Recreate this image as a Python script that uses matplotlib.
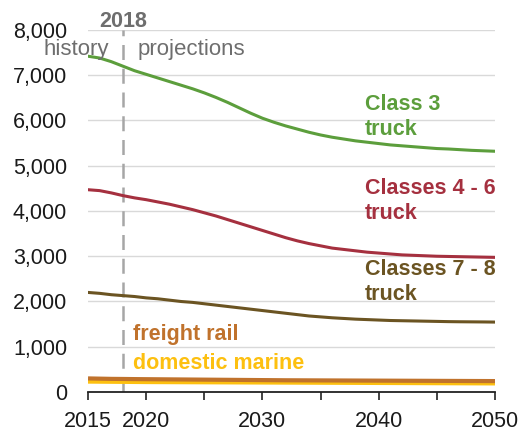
import numpy as np
import matplotlib.pyplot as plt

plt.rcParams['font.family'] = ['Liberation Sans', 'DejaVu Sans']

# Freight energy use by mode, 2015-2050
years = list(range(2015, 2051))

class3_truck = [7420, 7380, 7300, 7200, 7100, 7020, 6940, 6860, 6780, 6700,
                6610, 6510, 6400, 6280, 6160, 6050, 5960, 5880, 5810, 5740,
                5680, 5630, 5590, 5550, 5520, 5490, 5460, 5440, 5420, 5400,
                5380, 5370, 5355, 5340, 5330, 5320]
classes4_6_truck = [4470, 4450, 4400, 4340, 4290, 4250, 4200, 4150, 4090, 4030,
                    3960, 3890, 3810, 3730, 3650, 3570, 3490, 3410, 3340, 3280,
                    3230, 3180, 3150, 3120, 3090, 3070, 3050, 3030, 3020, 3010,
                    3000, 2995, 2990, 2985, 2980, 2975]
classes7_8_truck = [2200, 2180, 2150, 2130, 2110, 2080, 2060, 2030, 2000, 1980,
                    1950, 1920, 1890, 1860, 1830, 1800, 1770, 1740, 1710, 1680,
                    1660, 1640, 1625, 1610, 1600, 1590, 1580, 1575, 1570, 1565,
                    1560, 1555, 1552, 1550, 1548, 1545]
freight_rail = [300, 295, 290, 288, 285, 283, 281, 279, 277, 275,
                273, 271, 269, 267, 265, 263, 261, 259, 258, 257,
                256, 255, 254, 253, 252, 251, 250, 249, 248, 247,
                246, 245, 244, 243, 242, 241]
domestic_marine = [230, 228, 226, 224, 222, 220, 219, 218, 217, 216,
                   215, 214, 213, 212, 211, 210, 209, 208, 207, 206,
                   205, 204, 203, 202, 201, 200, 199, 198, 197, 196,
                   195, 194, 193, 192, 191, 190]

split_year = 2018
major_ticks = [2015, 2020, 2030, 2040, 2050]
minor_ticks = [2025, 2035, 2045]
y_ticks = list(range(0, 8001, 1000))

c_green = '#5c9e3c'
c_red = '#a5303f'
c_brown = '#6b5422'
c_rail = '#c0722c'
c_marine = '#fdc010'
c_gray = '#6e6e6e'

fs = 15.5

fig = plt.figure(figsize=(5.29, 4.32), dpi=100)
ax = fig.add_axes([0.1664, 0.0926, 0.7693, 0.838])

ax.plot(years, domestic_marine, color=c_marine, lw=3.0, solid_capstyle='butt', zorder=3)
ax.plot(years, freight_rail, color=c_rail, lw=3.0, solid_capstyle='butt', zorder=4)
ax.plot(years, classes7_8_truck, color=c_brown, lw=2.2, zorder=3)
ax.plot(years, classes4_6_truck, color=c_red, lw=2.2, zorder=3)
ax.plot(years, class3_truck, color=c_green, lw=2.2, zorder=3)

# history / projections divider
ax.axvline(split_year, color='#a6a6a6', lw=1.8, dashes=(6, 3.5), zorder=2)
ax.text(split_year, 7950, '2018', ha='center', va='bottom', fontsize=fs,
        fontweight='bold', color=c_gray, clip_on=False)
ax.text(split_year - 1.2, 7560, 'history', ha='right', va='center',
        fontsize=fs + 0.5, color=c_gray, clip_on=False)
ax.text(split_year + 1.3, 7560, 'projections', ha='left', va='center',
        fontsize=fs + 0.5, color=c_gray)

# series labels
lab_x = 2038.8
ax.text(lab_x, 6080, 'Class 3\ntruck', color=c_green, fontsize=fs,
        fontweight='bold', va='center', ha='left', linespacing=1.25)
ax.text(lab_x, 4220, 'Classes 4 - 6\ntruck', color=c_red, fontsize=fs,
        fontweight='bold', va='center', ha='left', linespacing=1.25, clip_on=False)
ax.text(lab_x, 2430, 'Classes 7 - 8\ntruck', color=c_brown, fontsize=fs,
        fontweight='bold', va='center', ha='left', linespacing=1.25, clip_on=False)
ax.text(2018.9, 1280, 'freight rail', color=c_rail, fontsize=fs,
        fontweight='bold', va='center', ha='left')
ax.text(2018.9, 640, 'domestic marine', color=c_marine, fontsize=fs,
        fontweight='bold', va='center', ha='left')

ax.set_xlim(2015, 2050)
ax.set_ylim(0, 8000)
ax.set_xticks(major_ticks)
ax.set_xticks(minor_ticks, minor=True)
ax.set_yticks(y_ticks)
ax.set_yticklabels([f'{v:,}' for v in y_ticks])

ax.grid(True, axis='y', color='#d9d9d9', lw=1.0)
ax.set_axisbelow(True)
for side in ['left', 'right', 'top']:
    ax.spines[side].set_visible(False)
ax.spines['bottom'].set_color('#222222')
ax.spines['bottom'].set_linewidth(1.3)

ax.tick_params(axis='y', length=0, labelsize=fs, pad=15, labelcolor='#1a1a1a')
ax.tick_params(axis='x', which='both', direction='out', length=6, width=1.2,
               color='#222222', labelsize=fs, labelcolor='#1a1a1a', pad=8)

fig.savefig('out.png', dpi=100)
